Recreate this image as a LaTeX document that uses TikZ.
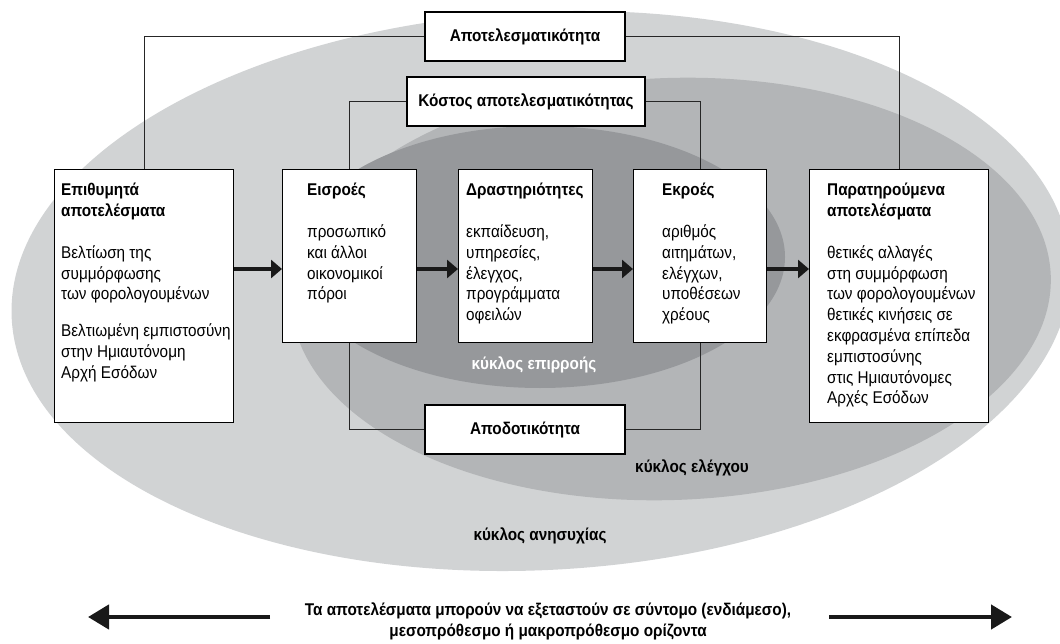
\documentclass[tikz,border=0pt]{standalone}
\usepackage{fontspec}
\setmainfont{Liberation Sans}[FakeStretch=0.9]
\usepackage{tikz}
\usetikzlibrary{arrows.meta,positioning,calc}
\definecolor{ringlight}{HTML}{D1D3D4}
\definecolor{ringmid}{HTML}{B3B5B7}
\definecolor{ringdark}{HTML}{96989B}

\begin{document}
\begin{tikzpicture}[
    x=1pt, y=-1pt,
    font=\fontsize{17}{20.8}\selectfont,
    stage/.style={
        rectangle,
        draw=black,
        fill=white,
        anchor=north west,
        inner sep=0pt,
        line width=1.2pt
    },
    measure/.style={
        rectangle,
        draw=black,
        fill=white,
        minimum width=200pt,
        minimum height=49pt,
        font=\fontsize{17}{20.8}\selectfont\bfseries,
        line width=1.2pt
    },
    body/.style={
        anchor=north west,
        align=left,
        inner sep=0pt
    },
    ring/.style={
        font=\fontsize{17}{20.8}\selectfont\bfseries
    },
    link/.style={line width=1pt, black!85},
    flow/.style={-{Triangle[length=11pt, width=18pt]}, line width=4.5pt, black!90},
    horizon/.style={-{Triangle[length=21pt, width=24pt]}, line width=4.5pt, black!90}
]

\useasboundingbox (0,0) rectangle (1060,644);

% === RINGS ===
\begin{scope}
\clip (0,0) rectangle (1060,644);
\fill[ringlight] (541,291) ellipse [x radius=530, y radius=279, rotate=3];
\fill[ringmid] (671,289) ellipse [x radius=380, y radius=211, rotate=2];
\fill[ringdark] (540,257) ellipse [x radius=245, y radius=131];
\end{scope}

\node[ring, text=white] (influence) at (534,365) {κύκλος επιρροής};
\node[ring] (control) at (692,468) {κύκλος ελέγχου};
\node[ring] (concern) at (540,536) {κύκλος ανησυχίας};

% === STAGES ===
\node[stage, minimum width=179pt, minimum height=253pt] (epith) at (54,169) {};
\node[stage, minimum width=134pt, minimum height=173pt] (eisr) at (282,169) {};
\node[stage, minimum width=134pt, minimum height=173pt] (drast) at (458,169) {};
\node[stage, minimum width=133pt, minimum height=173pt] (ekroes) at (633,169) {};
\node[stage, minimum width=179pt, minimum height=253pt] (parat) at (809,169) {};

\node[body] (epith-txt) at (61,183) {\textbf{Επιθυμητά}\\\textbf{αποτελέσματα}\\[21pt]
    Βελτίωση της\\συμμόρφωσης\\των φορολογουμένων\\[16pt]
    Βελτιωμένη εμπιστοσύνη\\στην Ημιαυτόνομη\\Αρχή Εσόδων};
\node[body] (eisr-txt) at (307,183) {\textbf{Εισροές}\\[21pt]
    προσωπικό\\και άλλοι\\οικονομικοί\\πόροι};
\node[body] (drast-txt) at (466,183) {\textbf{Δραστηριότητες}\\[21pt]
    εκπαίδευση,\\υπηρεσίες,\\έλεγχος,\\προγράμματα\\οφειλών};
\node[body] (ekroes-txt) at (662,183) {\textbf{Εκροές}\\[21pt]
    αριθμός\\αιτημάτων,\\ελέγχων,\\υποθέσεων\\χρέους};
\node[body] (parat-txt) at (827,183) {\textbf{Παρατηρούμενα}\\\textbf{αποτελέσματα}\\[21pt]
    θετικές αλλαγές\\στη συμμόρφωση\\των φορολογουμένων\\θετικές κινήσεις σε\\
    εκφρασμένα επίπεδα\\εμπιστοσύνης\\στις Ημιαυτόνομες\\Αρχές Εσόδων};

% === MEASURES ===
\node[measure] (apot) at (525,36.5) {Αποτελεσματικότητα};
\node[measure, minimum width=238pt] (kostos) at (526,101.5) {Κόστος αποτελεσματικότητας};
\node[measure] (apodot) at (525,429.5) {Αποδοτικότητα};

% 1. Effectiveness (outcomes)
\draw[link] (apot.west) -| (epith.north);
\draw[link] (apot.east) -| (parat.north);

% 2. Cost effectiveness
\draw[link] (kostos.west) -| (eisr.north);
\draw[link] (kostos.east) -| (ekroes.north);

% 3. Efficiency
\draw[link] (eisr.south) |- (apodot.west);
\draw[link] (ekroes.south) |- (apodot.east);

% 4. Chain of stages
\coordinate (chain) at (0,269);
\draw[flow] (epith.east |- chain) -- (eisr.west |- chain);
\draw[flow] (eisr.east |- chain) -- (drast.west |- chain);
\draw[flow] (drast.east |- chain) -- (ekroes.west |- chain);
\draw[flow] (ekroes.east |- chain) -- (parat.west |- chain);

% === TIME HORIZON ===
\node[ring, align=center] (horizon) at (548,621) {Τα αποτελέσματα μπορούν να εξεταστούν σε σύντομο (ενδιάμεσο),\\μεσοπρόθεσμο ή μακροπρόθεσμο ορίζοντα};
\coordinate (left-tail) at (270,617);
\coordinate (left-head) at (88,617);
\coordinate (right-tail) at (829,617);
\coordinate (right-head) at (1012,617);
\draw[horizon] (left-tail) -- (left-head);
\draw[horizon] (right-tail) -- (right-head);

\end{tikzpicture}
\end{document}
